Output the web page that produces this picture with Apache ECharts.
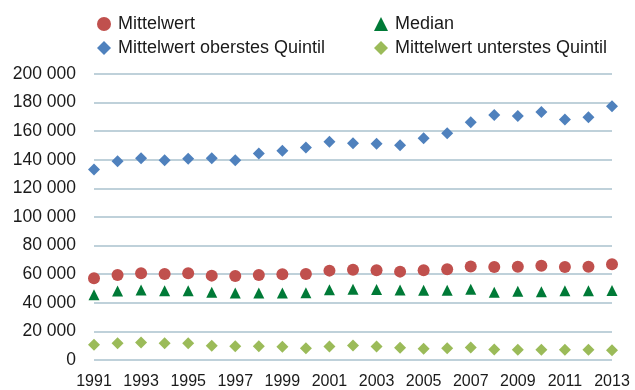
<!DOCTYPE html>
<html>
<head>
<meta charset="utf-8">
<script src="https://cdn.jsdelivr.net/npm/echarts@6/dist/echarts.min.js"></script>
<style>
  html, body { margin: 0; padding: 0; background: #ffffff; }
  #chart { width: 635px; height: 390px; }
</style>
</head>
<body>
<div id="chart"></div>
<script>
// Years on the x axis
const years = ['1991','1992','1993','1994','1995','1996','1997','1998','1999','2000',
  '2001','2002','2003','2004','2005','2006','2007','2008','2009','2010','2011','2012','2013'];

// Mean income
const mittelwert = [57100, 59400, 60600, 60100, 60600, 59000, 58700, 59400, 59900, 60100,
  62500, 63100, 62700, 61800, 62700, 63400, 65400, 65000, 65200, 65900, 65000, 65200, 67000];

// Median income
const median = [45600, 48200, 48900, 48400, 48400, 47300, 46800, 46800, 46800, 47000,
  49100, 49500, 49300, 48900, 48700, 48700, 49500, 47300, 48000, 47800, 48400, 48400, 48600];

// Mean of the top quintile
const oberstesQuintil = [133200, 138900, 141000, 139600, 140800, 141000, 139600, 144400, 146300, 148600,
  152700, 151600, 151300, 150200, 155100, 158500, 166300, 171400, 170700, 173500, 168200, 169800, 177400];

// Mean of the bottom quintile
const unterstesQuintil = [10600, 11700, 12200, 11700, 11700, 9900, 9700, 9700, 9200, 8300,
  9500, 10200, 9500, 8600, 7900, 8300, 8800, 7400, 7100, 7100, 7100, 7100, 6900];

// Y axis range
const yMin = 0, yMax = 200000, yStep = 20000;

const fontFamily = 'Liberation Sans, Arial, sans-serif';
const textColor = '#1a1a1a';

const chart = echarts.init(document.getElementById('chart'), null, { renderer: 'canvas' });

// thousands separated by a space
function fmt(v) {
  return String(v).replace(/\B(?=(\d{3})+(?!\d))/g, ' ');
}

const legendText = { fontFamily: fontFamily, fontSize: 18, color: textColor, padding: [0, 0, 0, 2] };

chart.setOption({
  animation: false,
  backgroundColor: '#ffffff',
  grid: { left: 94, right: 23, top: 74, bottom: 27, containLabel: false },
  legend: [
    {
      orient: 'vertical', left: 92, top: 10,
      itemWidth: 14, itemHeight: 14, itemGap: 6,
      textStyle: legendText,
      data: ['Mittelwert', 'Mittelwert oberstes Quintil']
    },
    {
      orient: 'vertical', left: 369, top: 10,
      itemWidth: 14, itemHeight: 14, itemGap: 6,
      textStyle: legendText,
      data: ['Median', 'Mittelwert unterstes Quintil']
    }
  ],
  xAxis: {
    type: 'category',
    data: years,
    boundaryGap: false,
    axisLine: { show: false },
    axisTick: { show: false },
    axisLabel: {
      interval: 1, margin: 14,
      fontFamily: fontFamily, fontSize: 16, color: textColor
    },
    splitLine: { show: false }
  },
  yAxis: {
    type: 'value',
    min: yMin, max: yMax, interval: yStep,
    axisLine: { show: false },
    axisTick: { show: false },
    axisLabel: {
      margin: 18,
      fontFamily: fontFamily, fontSize: 17.5, color: textColor,
      formatter: fmt
    },
    splitLine: { show: true, lineStyle: { color: '#bfd1da', width: 2 } }
  },
  series: [
    {
      name: 'Mittelwert', type: 'scatter', data: mittelwert,
      symbol: 'circle', symbolSize: 12,
      itemStyle: { color: '#c0504d', opacity: 1 }, z: 3
    },
    {
      name: 'Median', type: 'scatter', data: median,
      symbol: 'triangle', symbolSize: 11,
      itemStyle: { color: '#007a37', opacity: 1 }, z: 3
    },
    {
      name: 'Mittelwert oberstes Quintil', type: 'scatter', data: oberstesQuintil,
      symbol: 'diamond', symbolSize: 12,
      itemStyle: { color: '#4f81bd', opacity: 1 }, z: 3
    },
    {
      name: 'Mittelwert unterstes Quintil', type: 'scatter', data: unterstesQuintil,
      symbol: 'diamond', symbolSize: 12,
      itemStyle: { color: '#9bbb59', opacity: 1 }, z: 3
    }
  ]
});
</script>
</body>
</html>
